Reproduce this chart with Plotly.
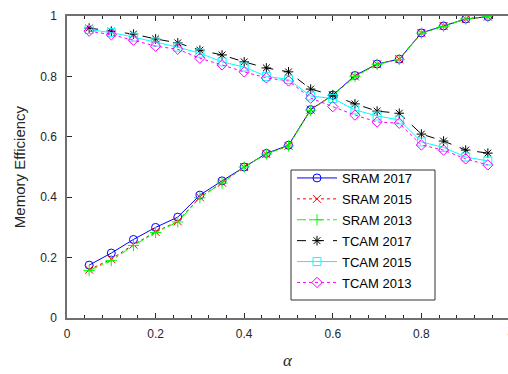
import plotly.graph_objects as go

alpha = [0.05, 0.10, 0.15, 0.20, 0.25, 0.30, 0.35, 0.40, 0.45, 0.50,
         0.55, 0.60, 0.65, 0.70, 0.75, 0.80, 0.85, 0.90, 0.95]
sram2017 = [0.175, 0.215, 0.26, 0.30, 0.334, 0.407, 0.454, 0.50, 0.545, 0.572,
            0.69, 0.738, 0.803, 0.841, 0.857, 0.944, 0.967, 0.99, 0.998]
sram2015 = [0.16, 0.195, 0.243, 0.285, 0.32, 0.40, 0.448, 0.50, 0.543, 0.57,
            0.69, 0.738, 0.80, 0.84, 0.857, 0.944, 0.967, 0.99, 0.998]
sram2013 = [0.157, 0.19, 0.24, 0.283, 0.318, 0.398, 0.447, 0.50, 0.543, 0.57,
            0.688, 0.737, 0.80, 0.84, 0.856, 0.943, 0.966, 0.99, 0.998]
tcam2017 = [0.96, 0.95, 0.94, 0.924, 0.911, 0.887, 0.871, 0.848, 0.828, 0.815,
            0.758, 0.738, 0.709, 0.685, 0.678, 0.609, 0.586, 0.556, 0.546]
tcam2015 = [0.955, 0.945, 0.93, 0.914, 0.897, 0.877, 0.848, 0.831, 0.80, 0.79,
            0.735, 0.727, 0.689, 0.669, 0.656, 0.583, 0.565, 0.533, 0.52]
tcam2013 = [0.95, 0.938, 0.92, 0.90, 0.89, 0.86, 0.838, 0.815, 0.795, 0.785,
            0.728, 0.70, 0.672, 0.649, 0.645, 0.573, 0.556, 0.527, 0.507]

series = [
    ("SRAM 2017", sram2017, "#0000ff", "solid", "circle-open"),
    ("SRAM 2015", sram2015, "#ff0000", "dot", "x-thin-open"),
    ("SRAM 2013", sram2013, "#00ff00", "dashdot", "cross-thin-open"),
    ("TCAM 2017", tcam2017, "#000000", "dash", "asterisk-open"),
    ("TCAM 2015", tcam2015, "#00ffff", "solid", "square-open"),
    ("TCAM 2013", tcam2013, "#ff00ff", "dot", "diamond-open"),
]

fig = go.Figure()
for name, ys, col, dash, sym in series:
    fig.add_trace(go.Scatter(
        x=alpha, y=ys, name=name, legendgroup=name, mode="lines+markers",
        line=dict(color=col, width=1, dash=dash),
        marker=dict(symbol=sym, size=8, color=col, line=dict(color=col, width=1)),
    ))

L, T, W, H = 67, 16, 441, 302
xmax = W / 443.0
axis_col = "#707070"
sans = "Liberation Sans, Arial, sans-serif"
tick_font = dict(family=sans, size=12, color="#262626")


def px(xp):
    return (xp - L) / W


def py(yp):
    return (T + H - yp) / H


fig.update_layout(
    width=508, height=374,
    margin=dict(l=L, r=508 - L - W, t=T, b=374 - T - H, pad=0),
    plot_bgcolor="white", paper_bgcolor="white",
    font=tick_font,
    showlegend=True,
    legend=dict(
        x=px(292), y=py(163), xanchor="left", yanchor="top",
        bgcolor="rgba(0,0,0,0)", borderwidth=0,
        font=dict(family=sans, size=13, color="#000000"),
        itemwidth=40, tracegroupgap=1,
    ),
    xaxis=dict(
        range=[0, xmax], showgrid=False, zeroline=False,
        showline=True, linecolor=axis_col, linewidth=1.5, mirror="ticks",
        ticks="inside", ticklen=5, tickcolor="#262626", tickwidth=1,
        tickvals=[0, 0.2, 0.4, 0.6, 0.8], ticktext=["0", "0.2", "0.4", "0.6", "0.8"],
        minor=dict(dtick=0.04, tick0=0, ticks="inside", ticklen=3, tickcolor="#262626"),
        title=dict(text="<i>α</i>", font=dict(family="Liberation Serif, Times New Roman, serif",
                                              size=17, color="#262626"), standoff=14),
        ticklabelstandoff=4,
    ),
    yaxis=dict(
        range=[0, 1], showgrid=False, zeroline=False,
        showline=True, linecolor=axis_col, linewidth=1.5,
        ticks="inside", ticklen=5, tickcolor="#262626",
        tickvals=[0, 0.2, 0.4, 0.6, 0.8, 1], ticktext=["0", "0.2", "0.4", "0.6", "0.8", "1"],
        title=dict(text="Memory Efficiency", font=dict(family=sans, size=15, color="#262626"), standoff=11),
        ticklabelstandoff=6,
    ),
    yaxis2=dict(
        range=[0, 1], overlaying="y", side="right", anchor="x",
        showgrid=False, zeroline=False, showline=False,
        ticks="inside", ticklen=5, tickcolor="#262626",
        tickvals=[0, 0.2, 0.4, 0.6, 0.8, 1], showticklabels=False,
    ),
    shapes=[dict(
        type="rect", xref="paper", yref="paper",
        x0=px(291), x1=px(435), y0=py(300), y1=py(170),
        fillcolor="white", line=dict(color="#333333", width=1), layer="above",
    )],
)

fig.add_annotation(
    x=px(510), y=0, xref="paper", yref="paper", yshift=-4,
    text="1", showarrow=False, xanchor="center", yanchor="top",
    font=tick_font,
)

fig.write_html("out.html")
